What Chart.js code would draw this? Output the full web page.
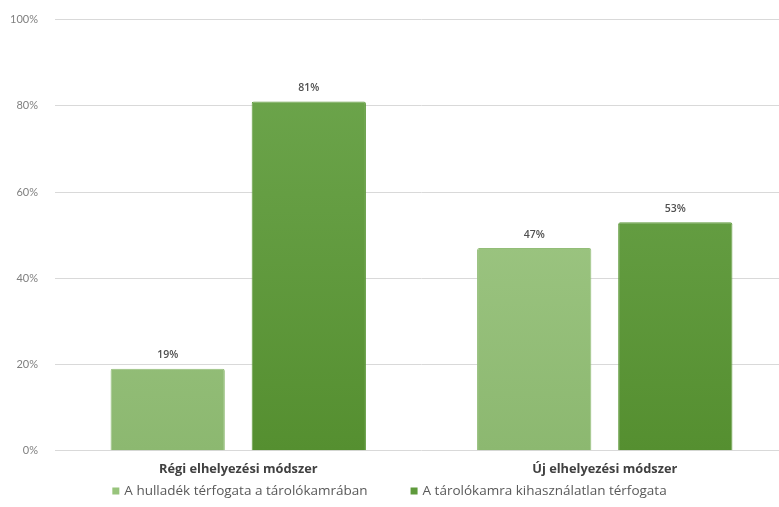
<!DOCTYPE html>
<html>
<head>
<meta charset="utf-8">
<script src="https://cdn.jsdelivr.net/npm/chart.js@4.4.0/dist/chart.umd.min.js"></script>
<style>
  html, body { margin: 0; padding: 0; background: #fff; overflow: hidden; }
  /* the plot runs a little past the edges, as in the cropped original */
  #wrap { width: 788px; height: 511px; margin-top: -4px; }
</style>
</head>
<body>
<div id="wrap"><canvas id="chart"></canvas></div>
<script>
// categories and series
const categories = ['Régi elhelyezési módszer', 'Új elhelyezési módszer'];
const seriesNames = ['A hulladék térfogata a tárolókamrában', 'A tárolókamra kihasználatlan térfogata'];
const wasteVolume = [19, 47];
const unusedVolume = [81, 53];
const yTicks = [0, 20, 40, 60, 80, 100];
const legendSwatches = ['#98c47c', '#5f9a3c'];

const FONT = '"Open Sans", Lato, sans-serif';

function vGradient(ctx, top, bottom) {
  const area = ctx.chart.chartArea;
  if (!area) return bottom;
  const g = ctx.chart.ctx.createLinearGradient(0, area.top, 0, area.bottom);
  g.addColorStop(0, top);
  g.addColorStop(1, bottom);
  return g;
}

// draws the percentage above each bar
const valueLabels = {
  id: 'valueLabels',
  afterDatasetsDraw(chart) {
    const ctx = chart.ctx;
    ctx.save();
    ctx.font = '600 10.5px ' + FONT;
    ctx.fillStyle = '#505050';
    ctx.textAlign = 'center';
    ctx.textBaseline = 'bottom';
    chart.data.datasets.forEach((ds, i) => {
      chart.getDatasetMeta(i).data.forEach((bar, j) => {
        ctx.fillText(ds.data[j] + '%', bar.x, bar.y - 8);
      });
    });
    ctx.restore();
  }
};

// legend row under the category labels, Excel-like spacing
const bottomLegend = {
  id: 'bottomLegend',
  afterDraw(chart) {
    const ctx = chart.ctx;
    const box = 7, gap = 43, textGap = 5;
    ctx.save();
    ctx.font = '13.5px ' + FONT;
    ctx.textBaseline = 'middle';
    const widths = seriesNames.map(n => ctx.measureText(n).width);
    const total = widths.reduce((a, w) => a + box + textGap + w, 0) + gap * (seriesNames.length - 1);
    const visibleW = Math.min(chart.width, window.innerWidth);
    let x = (visibleW - total) / 2;
    const y = chart.height - 16;
    seriesNames.forEach((name, i) => {
      ctx.fillStyle = legendSwatches[i];
      ctx.fillRect(x, y - box / 2, box, box);
      x += box + textGap;
      ctx.fillStyle = '#595959';
      ctx.fillText(name, x, y);
      x += widths[i] + gap;
    });
    ctx.restore();
  }
};

new Chart(document.getElementById('chart'), {
  type: 'bar',
  data: {
    labels: categories,
    datasets: [
      {
        label: seriesNames[0],
        data: wasteVolume,
        backgroundColor: c => vGradient(c, '#a9cf8f', '#8cb870'),
        borderColor: '#93bd78',
        borderWidth: 1,
        borderRadius: 2
      },
      {
        label: seriesNames[1],
        data: unusedVolume,
        backgroundColor: c => vGradient(c, '#70a850', '#558f30'),
        borderColor: '#609b3d',
        borderWidth: 1,
        borderRadius: 2
      }
    ]
  },
  options: {
    responsive: true,
    maintainAspectRatio: false,
    animation: false,
    layout: { padding: { top: 0, right: 0, left: 0, bottom: 27 } },
    categoryPercentage: 0.77,
    barPercentage: 0.81,
    plugins: {
      title: { display: false },
      tooltip: { enabled: false },
      legend: { display: false }
    },
    scales: {
      x: {
        grid: { display: false },
        border: { display: false },
        ticks: {
          color: '#404040',
          padding: 3,
          font: { family: FONT, size: 12.8, weight: 'bold' }
        }
      },
      y: {
        min: 0,
        max: 100,
        afterBuildTicks: axis => { axis.ticks = yTicks.map(v => ({ value: v })); },
        afterFit: axis => { axis.width = 55; },
        grid: { color: '#d9d9d9', drawTicks: false },
        border: { display: false },
        ticks: {
          color: '#808080',
          padding: 17,
          font: { family: 'Lato, sans-serif', size: 11 },
          callback: v => v + '%'
        }
      }
    }
  },
  plugins: [valueLabels, bottomLegend]
});
</script>
</body>
</html>
